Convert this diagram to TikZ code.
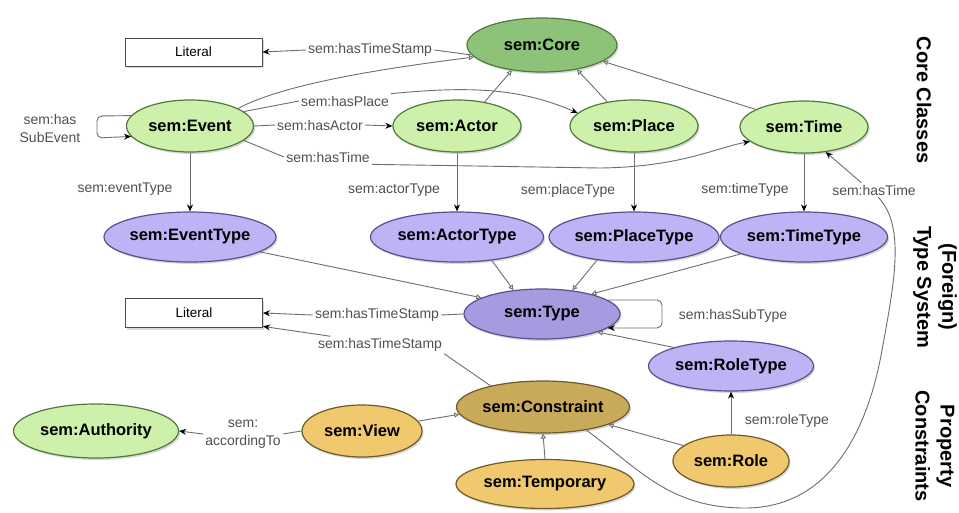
\documentclass[tikz,border=0pt]{standalone}
\usepackage{fontspec}
\setmainfont{Liberation Sans}
\usetikzlibrary{shapes.geometric,arrows.meta,shadows}
\definecolor{coreG}{HTML}{8CC378}
\definecolor{lightG}{HTML}{CDF0AA}
\definecolor{greenB}{HTML}{4F7A3C}
\definecolor{typeP}{HTML}{A59BE1}
\definecolor{lightP}{HTML}{BEB4F5}
\definecolor{purpB}{HTML}{5A4F8C}
\definecolor{oliveC}{HTML}{C8AA5A}
\definecolor{orangeY}{HTML}{F0C86E}
\definecolor{brownB}{HTML}{6E5A28}
\definecolor{edgeC}{HTML}{6E6E6E}
\definecolor{labC}{HTML}{505050}
\begin{document}
\begin{tikzpicture}[x=1pt,y=-1pt,
  cls/.style={ellipse, draw=#1, line width=1.2pt, inner sep=0pt,
    font=\fontsize{16.5}{19}\selectfont\bfseries,
    drop shadow={shadow xshift=1.5pt,shadow yshift=-2pt,opacity=0.3}},
  litbox/.style={rectangle, draw=black!70, fill=white, line width=1pt,
    minimum width=137pt, minimum height=28pt, inner sep=0pt,
    font=\fontsize{13.5}{16}\selectfont,
    drop shadow={shadow xshift=1.5pt,shadow yshift=-2pt,opacity=0.3}},
  lab/.style={font=\fontsize{14}{17}\selectfont, text=labC, inner sep=2pt},
  title/.style={rotate=-90, align=center, font=\fontsize{20}{25}\selectfont\bfseries},
  ed/.style={draw=edgeC, line width=0.9pt},
  fa/.style={ed, -{Stealth[length=7pt,width=6pt,color=black]}},
  oa/.style={ed, -{Triangle[length=5pt,width=5pt,fill=white]}}
]
\fill[white] (0,0) rectangle (959,512);
\useasboundingbox (0,0) rectangle (959,512);

% nodes
\node[cls=greenB, fill=coreG, minimum width=150pt, minimum height=54pt] (core) at (542,45) {sem:Core};
\node[litbox] (lit1) at (193.5,52) {Literal};
\node[cls=greenB, fill=lightG, minimum width=127pt, minimum height=52pt] (event) at (190,126) {sem:Event};
\node[cls=greenB, fill=lightG, minimum width=128pt, minimum height=52pt] (actor) at (457,126) {sem:Actor};
\node[cls=greenB, fill=lightG, minimum width=128pt, minimum height=52pt] (place) at (634,126) {sem:Place};
\node[cls=greenB, fill=lightG, minimum width=128pt, minimum height=52pt] (time) at (804,127) {sem:Time};

\node[cls=purpB, fill=lightP, minimum width=172pt, minimum height=50pt] (eventtype) at (190,237) {sem:EventType};
\node[cls=purpB, fill=lightP, minimum width=173pt, minimum height=50pt] (actortype) at (457,237) {sem:ActorType};
\node[cls=purpB, fill=lightP, minimum width=170pt, minimum height=50pt] (placetype) at (634,237) {sem:PlaceType};
\node[cls=purpB, fill=lightP, minimum width=167pt, minimum height=50pt] (timetype) at (804,237) {sem:TimeType};

\node[litbox, minimum height=29pt] (lit2) at (194,313) {Literal};
\node[cls=purpB, fill=typeP, minimum width=156pt, minimum height=50pt] (type) at (542,314) {sem:Type};
\node[cls=purpB, fill=lightP, minimum width=165pt, minimum height=50pt] (roletype) at (731,366) {sem:RoleType};

\node[cls=brownB, fill=oliveC, minimum width=173pt, minimum height=52pt] (constraint) at (543,407) {sem:Constraint};
\node[cls=brownB, fill=orangeY, minimum width=120pt, minimum height=52pt] (view) at (362,431) {sem:View};
\node[cls=greenB, fill=lightG, minimum width=165pt, minimum height=54pt] (authority) at (96,431) {sem:Authority};
\node[cls=brownB, fill=orangeY, minimum width=178pt, minimum height=49pt] (temporary) at (545,484) {sem:Temporary};
\node[cls=brownB, fill=orangeY, minimum width=116pt, minimum height=52pt] (role) at (731,461) {sem:Role};

% labels
\node[lab] (lts1) at (370,50) {sem:hasTimeStamp};
\node[lab] (lhp) at (345,101) {sem:hasPlace};
\node[lab] (lha) at (320,125) {sem:hasActor};
\node[lab] (lht) at (328,157) {sem:hasTime};
\node[lab, align=center, font=\fontsize{14}{18}\selectfont] (lse) at (50,128) {sem:has\\SubEvent};
\node[lab] (let) at (125,189) {sem:eventType};
\node[lab] (lat) at (394,190) {sem:actorType};
\node[lab] (lpt) at (568,191) {sem:placeType};
\node[lab] (ltt) at (745,190) {sem:timeType};
\node[lab] (lhtr) at (874,190) {sem:hasTime};
\node[lab] (lts2) at (377,315) {sem:hasTimeStamp};
\node[lab] (lts3) at (380,345) {sem:hasTimeStamp};
\node[lab] (lst) at (733,316) {sem:hasSubType};
\node[lab] (lrt) at (787,421) {sem:roleType};
\node[lab, align=center, font=\fontsize{14}{18}\selectfont] (lacc) at (243,434) {sem:\\accordingTo};

% titles
\node[title] (t1) at (924,100) {Core Classes};
\node[title] (t2) at (935,287) {(Foreign)\\Type System};
\node[title] (t3) at (935,446) {Property\\Constraints};

% subclass edges
\draw[oa] (event.20) .. controls (290,80) and (420,64) .. (core.190);
\draw[oa] (actor.41) -- (core.220);
\draw[oa] (place.138) -- (core.-35);
\draw[oa] (time.160) -- (core.-15);
\draw[oa] (eventtype.-12) -- (type.165);
\draw[oa] (actortype.-34) -- (type.140);
\draw[oa] (placetype.-148) -- (type.38);
\draw[oa] (timetype.195) -- (type.22);
\draw[oa] (roletype.162) -- (type.-18);
\draw[oa] (role.162) -- (constraint.-15);
\draw[oa] (temporary.north) -- (constraint.south);
\draw[oa] (view.10) -- (constraint.185);

% property edges
\draw[ed] (core.188) -- (lts1.east);
\draw[fa] (lts1.west) -- (lit1.east);
\draw[ed] (event.15) -- (lhp.west);
\draw[fa] (lhp.north east) .. controls (470,86) and (520,88) .. (place.167);
\draw[ed] (event.east) -- (lha.west);
\draw[fa] (lha.east) -- (actor.west);
\draw[ed] (event.-15) -- (lht.west);
\draw[fa] (lht.south east) -- (600,168) .. controls (680,167) and (715,148) .. (time.195);
\draw[fa, rounded corners=5pt] (event.170) -- (97,116) -- (97,138) -- (event.190);
\draw[fa] (event.south) -- (eventtype.north);
\draw[fa] (actor.south) -- (actortype.north);
\draw[fa] (place.south) -- (placetype.north);
\draw[fa] (time.south) -- (timetype.north);
\draw[ed] (constraint.-28) .. controls (640,470) and (670,508) .. (745,508)
   .. controls (830,508) and (868,430) .. (882,350)
   .. controls (895,280) and (905,225) .. (lhtr.-60);
\draw[fa] (lhtr.150) -- (time.-49);
\draw[ed] (type.west) -- (lts2.east);
\draw[fa] (lts2.west) -- (lit2.east);
\draw[ed] (constraint.158) -- (lts3.south east);
\draw[fa] (lts3.170) -- (lit2.-11);
\draw[fa, rounded corners=5pt] (type.12) -- (662,300) -- (662,328) -- (type.-12);
\draw[fa] (role.north) -- (roletype.south);
\draw[ed] (view.west) -- (lacc.east);
\draw[fa] (lacc.west) -- (authority.east);
\end{tikzpicture}
\end{document}
